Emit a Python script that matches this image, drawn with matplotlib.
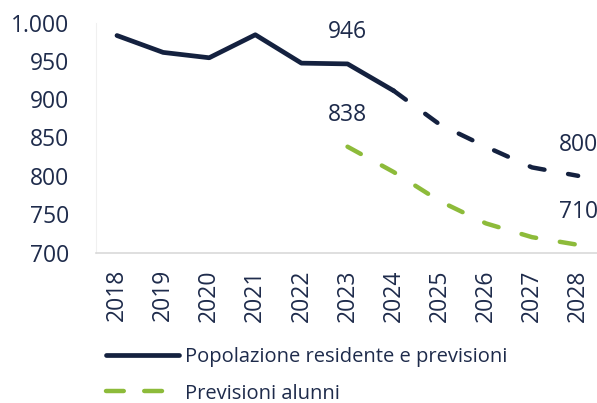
import matplotlib
matplotlib.use("Agg")
import matplotlib.pyplot as plt
from matplotlib.lines import Line2D

years = ["2018", "2019", "2020", "2021", "2022", "2023", "2024", "2025", "2026", "2027", "2028"]
popolazione = [983, 961, 954, 984, 947, 946, 911, 867, 838, 811, 800]
alunni = [None, None, None, None, None, 838, 805, 767, 738, 720, 710]
y_ticks = [700, 750, 800, 850, 900, 950, 1000]
y_tick_labels = ["700", "750", "800", "850", "900", "950", "1.000"]
hist_end = 6  # index of 2024, last observed year

navy = "#14213f"
green = "#8dbb3a"
text_col = "#1e2b4b"
dash = (0, (3.4, 5.4))

plt.rcParams['font.family'] = ['Open Sans', 'DejaVu Sans']

fig = plt.figure(figsize=(5.97, 4.03), dpi=100)
ax = fig.add_axes([96/597, (403-252.5)/403, (597-96)/597, 230/403])

x = list(range(len(years)))
ax.plot(x[:hist_end+1], popolazione[:hist_end+1], color=navy, lw=3.4,
        solid_capstyle='round', solid_joinstyle='round')
ax.plot(x[hist_end:], popolazione[hist_end:], color=navy, lw=3.2,
        linestyle=dash, dash_capstyle='round')
ax_idx = [i for i, v in enumerate(alunni) if v is not None]
ax.plot(ax_idx, [alunni[i] for i in ax_idx], color=green, lw=3.2,
        linestyle=dash, dash_capstyle='round')

# data labels
ax.annotate(f"{popolazione[5]}", (5, popolazione[5]), xytext=(0, 23), textcoords='offset points',
            ha='center', va='center', fontsize=16.5, color=text_col)
ax.annotate(f"{alunni[5]}", (5, alunni[5]), xytext=(0, 23), textcoords='offset points',
            ha='center', va='center', fontsize=16.5, color=text_col)
ax.annotate(f"{popolazione[10]}", (10, popolazione[10]), xytext=(0, 22), textcoords='offset points',
            ha='center', va='center', fontsize=16.5, color=text_col)
ax.annotate(f"{alunni[10]}", (10, alunni[10]), xytext=(0, 23.5), textcoords='offset points',
            ha='center', va='center', fontsize=16.5, color=text_col)

ax.set_xlim(-0.455, 10.41)
ax.set_ylim(700, 1000)
ax.set_yticks(y_ticks)
ax.set_yticklabels(y_tick_labels)
ax.set_xticks(x)
ax.set_xticklabels(years, rotation=90)
ax.tick_params(axis='y', length=0, pad=19, labelsize=16.5, labelcolor=text_col)
ax.tick_params(axis='x', length=0, pad=12, labelsize=16.5, labelcolor=text_col)

for s in ['top', 'right']:
    ax.spines[s].set_visible(False)
ax.spines['left'].set_color('#f0f0f0')
ax.spines['left'].set_linewidth(0.8)
ax.spines['bottom'].set_color('#d9d9d9')
ax.spines['bottom'].set_linewidth(1.2)

handles = [
    Line2D([], [], color=navy, lw=3.4, solid_capstyle='round'),
    Line2D([], [], color=green, lw=3.2, linestyle=(0, (4.0, 4.6)), dash_capstyle='round'),
]
fig.legend(handles, ["Popolazione residente e previsioni", "Previsioni alunni"],
           loc='upper left', bbox_to_anchor=(106/597, 1 - 347/403), frameon=False,
           fontsize=14.5, labelcolor=text_col, handlelength=3.6, handletextpad=0.3,
           labelspacing=0.82, borderpad=0, borderaxespad=0)

fig.savefig("out.png", dpi=100)
